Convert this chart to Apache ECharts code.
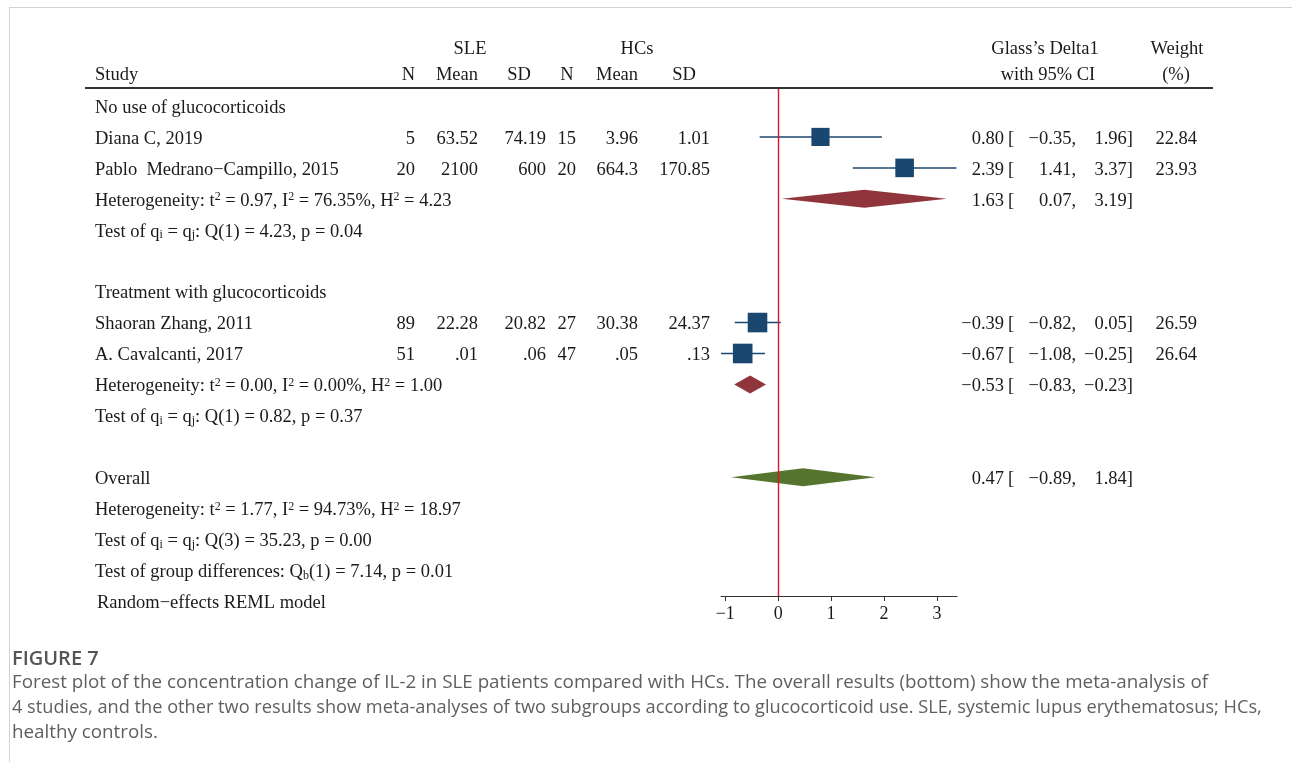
<!DOCTYPE html>
<html>
<head>
<meta charset="utf-8">
<script src="https://cdn.jsdelivr.net/npm/echarts@6/dist/echarts.min.js"></script>
<style>
html, body { margin: 0; padding: 0; background: #fff; }
#main { width: 1292px; height: 762px; }
</style>
</head>
<body>
<div id="main"></div>
<script>
// ---- data ----
var groupNames = ['No use of glucocorticoids', 'Treatment with glucocorticoids'];
var studies = ['Diana C, 2019', 'Pablo  Medrano\u2212Campillo, 2015', 'Shaoran Zhang, 2011', 'A. Cavalcanti, 2017'];
var studyGroup = [0, 0, 1, 1];
var sleN = ['5', '20', '89', '51'];
var sleMean = ['63.52', '2100', '22.28', '.01'];
var sleSD = ['74.19', '600', '20.82', '.06'];
var hcN = ['15', '20', '27', '47'];
var hcMean = ['3.96', '664.3', '30.38', '.05'];
var hcSD = ['1.01', '170.85', '24.37', '.13'];
var effect = [0.80, 2.39, -0.39, -0.67];
var ciLow = [-0.35, 1.41, -0.82, -1.08];
var ciHigh = [1.96, 3.37, 0.05, -0.25];
var weight = [22.84, 23.93, 26.59, 26.64];
var groupEffect = [1.63, -0.53];
var groupLow = [0.07, -0.83];
var groupHigh = [3.19, -0.23];
var groupHet = [['0.97', '76.35%', '4.23'], ['0.00', '0.00%', '1.00']];
var groupQ = [['1', '4.23', '0.04'], ['1', '0.82', '0.37']];
var overall = [0.47, -0.89, 1.84];
var overallHet = ['1.77', '94.73%', '18.97'];
var overallQ = ['3', '35.23', '0.00'];
var groupDiff = ['1', '7.14', '0.01'];
var axisTicks = [-1, 0, 1, 2, 3];

// ---- build rows of the table ----
var rows = [];
groupNames.forEach(function (g, gi) {
    rows.push({ type: 'group', text: g });
    studies.forEach(function (s, i) {
        if (studyGroup[i] === gi) rows.push({ type: 'study', idx: i });
    });
    rows.push({ type: 'het', het: groupHet[gi], diamond: [groupEffect[gi], groupLow[gi], groupHigh[gi]] });
    rows.push({ type: 'q', q: groupQ[gi] });
    rows.push({ type: 'blank' });
});
rows.push({ type: 'overall', diamond: overall });
rows.push({ type: 'het', het: overallHet });
rows.push({ type: 'q', q: overallQ });
rows.push({ type: 'diff', q: groupDiff });
rows.push({ type: 'model' });

var studyData = [], groupDiamonds = [], overallDiamonds = [];
rows.forEach(function (r, ri) {
    if (r.type === 'study') {
        var i = r.idx;
        studyData.push([effect[i], ri, ciLow[i], ciHigh[i], weight[i]]);
    } else if (r.type === 'het' && r.diamond) {
        groupDiamonds.push([r.diamond[0], ri, r.diamond[1], r.diamond[2]]);
    } else if (r.type === 'overall') {
        overallDiamonds.push([r.diamond[0], ri, r.diamond[1], r.diamond[2]]);
    }
});

function fmt(v) {
    return (v < 0 ? '\u2212' : '') + Math.abs(v).toFixed(2);
}

var FONT = '18.5px "Liberation Serif"';
var INK = '#1a1a1a';
var NAVY = '#1a476f';
var MAROON = '#90353b';
var GREEN = '#55752f';

function renderStudy(params, api) {
    var y = api.coord([0, api.value(1)])[1];
    var lo = api.coord([api.value(2), 0])[0];
    var hi = api.coord([api.value(3), 0])[0];
    var c = api.coord([api.value(0), 0])[0];
    var s = 3.8 * Math.sqrt(api.value(4));
    return {
        type: 'group',
        children: [
            { type: 'line', shape: { x1: lo, y1: y, x2: hi, y2: y }, style: { stroke: NAVY, lineWidth: 1.5 } },
            { type: 'rect', shape: { x: c - s / 2, y: y - s / 2, width: s, height: s }, style: { fill: NAVY } }
        ]
    };
}

function diamondRenderer(color) {
    return function (params, api) {
        var y = api.coord([0, api.value(1)])[1];
        var c = api.coord([api.value(0), 0])[0];
        var lo = api.coord([api.value(2), 0])[0];
        var hi = api.coord([api.value(3), 0])[0];
        return {
            type: 'polygon',
            shape: { points: [[lo, y], [c, y - 9], [hi, y], [c, y + 9]] },
            style: { fill: color }
        };
    };
}

var chart = echarts.init(document.getElementById('main'));

var option = {
    backgroundColor: '#fff',
    animation: false,
    grid: { left: 721, top: 89, width: 236, height: 507 },
    xAxis: {
        type: 'value',
        min: -1.08,
        max: 3.38,
        splitLine: { show: false },
        axisLine: { show: true, onZero: false, lineStyle: { color: '#333', width: 1 } },
        axisTick: { show: true, length: 5, customValues: axisTicks, lineStyle: { color: '#333' } },
        axisLabel: {
            customValues: axisTicks,
            margin: 9,
            color: INK,
            fontFamily: 'Liberation Serif',
            fontSize: 18,
            formatter: function (v) { return v < 0 ? '\u2212' + Math.abs(v) : String(v); }
        }
    },
    yAxis: {
        type: 'value',
        inverse: true,
        min: -0.55,
        max: 15.84,
        show: false
    },
    series: [
        { type: 'custom', renderItem: renderStudy, data: studyData, z: 2 },
        { type: 'custom', renderItem: diamondRenderer(MAROON), data: groupDiamonds, z: 2 },
        { type: 'custom', renderItem: diamondRenderer(GREEN), data: overallDiamonds, z: 2 },
        {
            type: 'line', data: [], z: 5,
            markLine: {
                silent: true, symbol: 'none', label: { show: false },
                lineStyle: { color: '#e3102e', width: 1.4, type: 'solid' },
                data: [{ xAxis: 0 }]
            }
        }
    ]
};
chart.setOption(option);

// ---- text table, aligned to the rows of the y axis ----
var TEXT_SHIFT = 2;
function rowY(ri) {
    return chart.convertToPixel({ yAxisIndex: 0 }, ri) + TEXT_SHIFT;
}

var rich = {
    sup: { font: '12px "Liberation Serif"', fill: INK, color: INK, verticalAlign: 'top', textVerticalAlign: 'top' },
    sub: { font: '12px "Liberation Serif"', fill: INK, color: INK, verticalAlign: 'bottom', textVerticalAlign: 'bottom' }
};

function txt(text, x, y, align, extra) {
    var st = {
        text: text, x: x, y: y, font: FONT, fill: INK,
        textAlign: align || 'left', align: align || 'left',
        textVerticalAlign: 'middle', verticalAlign: 'middle',
        rich: rich
    };
    if (extra) for (var k in extra) st[k] = extra[k];
    return { type: 'text', silent: true, style: st };
}

var g = [];
// frame
g.push({ type: 'line', silent: true, shape: { x1: 9, y1: 7.5, x2: 1292, y2: 7.5 }, style: { stroke: '#d2d2d2', lineWidth: 1 } });
g.push({ type: 'line', silent: true, shape: { x1: 9.5, y1: 7, x2: 9.5, y2: 762 }, style: { stroke: '#d2d2d2', lineWidth: 1 } });

// header
var H1 = 47 + TEXT_SHIFT, H2 = 73 + TEXT_SHIFT;
g.push(txt('SLE', 470, H1, 'center'));
g.push(txt('HCs', 637, H1, 'center'));
g.push(txt('Study', 95, H2));
g.push(txt('N', 415, H2, 'right'));
g.push(txt('Mean', 478, H2, 'right'));
g.push(txt('SD', 519, H2, 'center'));
g.push(txt('N', 567, H2, 'center'));
g.push(txt('Mean', 617, H2, 'center'));
g.push(txt('SD', 684, H2, 'center'));
g.push(txt('Glass\u2019s Delta1', 1045, H1, 'center'));
g.push(txt('with 95% CI', 1048, H2, 'center'));
g.push(txt('Weight', 1177, H1, 'center'));
g.push(txt('(%)', 1176, H2, 'center'));
g.push({ type: 'line', silent: true, shape: { x1: 85, y1: 88, x2: 1213, y2: 88 }, style: { stroke: '#333', lineWidth: 2 } });

function ciText(y, est, lo, hi) {
    g.push(txt(fmt(est), 1004, y, 'right'));
    g.push(txt('[', 1008, y, 'left'));
    g.push(txt(fmt(lo) + ',', 1076, y, 'right'));
    g.push(txt(fmt(hi) + ']', 1133, y, 'right'));
}

rows.forEach(function (r, ri) {
    var y = rowY(ri);
    if (r.type === 'group') {
        g.push(txt(r.text, 95, y));
    } else if (r.type === 'study') {
        var i = r.idx;
        g.push(txt(studies[i], 95, y));
        g.push(txt(sleN[i], 415, y, 'right'));
        g.push(txt(sleMean[i], 478, y, 'right'));
        g.push(txt(sleSD[i], 546, y, 'right'));
        g.push(txt(hcN[i], 576, y, 'right'));
        g.push(txt(hcMean[i], 638, y, 'right'));
        g.push(txt(hcSD[i], 710, y, 'right'));
        ciText(y, effect[i], ciLow[i], ciHigh[i]);
        g.push(txt(weight[i].toFixed(2), 1197, y, 'right'));
    } else if (r.type === 'het') {
        g.push(txt('Heterogeneity: t{sup|2} = ' + r.het[0] + ', I{sup|2} = ' + r.het[1] + ', H{sup|2} = ' + r.het[2], 95, y));
        if (r.diamond) ciText(y, r.diamond[0], r.diamond[1], r.diamond[2]);
    } else if (r.type === 'q') {
        g.push(txt('Test of q{sub|i} = q{sub|j}: Q(' + r.q[0] + ') = ' + r.q[1] + ', p = ' + r.q[2], 95, y));
    } else if (r.type === 'diff') {
        g.push(txt('Test of group differences: Q{sub|b}(' + r.q[0] + ') = ' + r.q[1] + ', p = ' + r.q[2], 95, y));
    } else if (r.type === 'overall') {
        g.push(txt('Overall', 95, y));
        ciText(y, r.diamond[0], r.diamond[1], r.diamond[2]);
    } else if (r.type === 'model') {
        g.push(txt('Random\u2212effects REML model', 97, y));
    }
});

// caption
var CAP = '#5f5f5f';
g.push(txt('FIGURE 7', 12, 659, 'left', { font: '600 20px "Open Sans"', fill: '#555' }));
g.push(txt('Forest plot of the concentration change of IL-2 in SLE patients compared with HCs. The overall results (bottom) show the meta-analysis of', 12, 683, 'left', { font: '18.8px "Open Sans"', fill: CAP }));
g.push(txt('4 studies, and the other two results show meta-analyses of two subgroups according to glucocorticoid use. SLE, systemic lupus erythematosus; HCs,', 12, 708, 'left', { font: '18.2px "Open Sans"', fill: CAP }));
g.push(txt('healthy controls.', 12, 733, 'left', { font: '18.8px "Open Sans"', fill: CAP }));

chart.setOption({ graphic: g });
</script>
</body>
</html>
